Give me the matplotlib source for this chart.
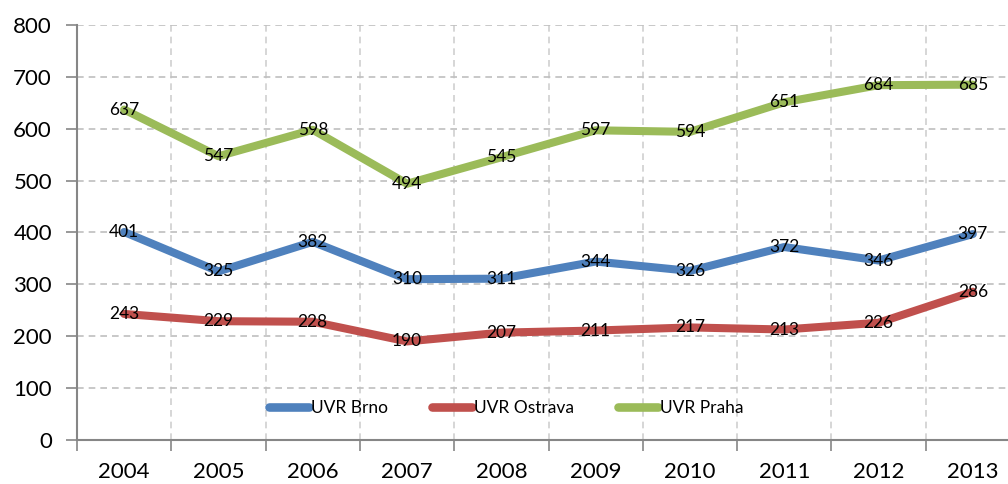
import numpy as np
import matplotlib
matplotlib.use("Agg")
import matplotlib.pyplot as plt

years = ["2004", "2005", "2006", "2007", "2008", "2009", "2010", "2011", "2012", "2013"]
brno = [401, 325, 382, 310, 311, 344, 326, 372, 346, 397]
ostrava = [243, 229, 228, 190, 207, 211, 217, 213, 226, 286]
praha = [637, 547, 598, 494, 545, 597, 594, 651, 684, 685]
series_names = ["UVR Brno", "UVR Ostrava", "UVR Praha"]
colors = ["#4F81BD", "#C0504D", "#9BBB59"]

plt.rcParams['font.family'] = ['Lato', 'DejaVu Sans']

W, H = 1008, 484
fig = plt.figure(figsize=(W / 100, H / 100), dpi=100)
ax = fig.add_axes([77 / W, 1 - 440 / H, 943 / W, 415 / H])

x = np.arange(len(years))
for vals, name, c in zip([brno, ostrava, praha], series_names, colors):
    ax.plot(x, vals, color=c, lw=5.8, solid_capstyle='round', solid_joinstyle='round', label=name, zorder=3)
    for xi, v in zip(x, vals):
        ax.text(xi, v, str(v), ha='center', va='center', fontsize=12.5, color='black', zorder=5)

ax.set_xlim(-0.5, len(years) - 0.5)
ax.set_ylim(0, 800)
ax.set_yticks(np.arange(0, 801, 100))
ax.set_xticks(x)
ax.set_xticklabels(years)
ax.set_xticks(np.arange(-0.5, len(years), 1.0), minor=True)
ax.tick_params(axis='x', which='major', length=0, labelsize=16, pad=16, colors='black')
ax.tick_params(axis='x', which='minor', length=8, width=1.2, color='#868686', direction='out')
ax.tick_params(axis='y', which='major', length=8, width=1.2, color='#868686', labelsize=16, pad=10, labelcolor='black')

ax.grid(True, axis='y', which='major', ls=(0, (4, 3)), color='#BFBFBF', lw=1.2, zorder=0)
ax.grid(True, axis='x', which='minor', ls=(0, (4, 3)), color='#D0D0D0', lw=1.2, zorder=0)
ax.grid(False, axis='x', which='major')
for s in ['top', 'right']:
    ax.spines[s].set_visible(False)
for s in ['left', 'bottom']:
    ax.spines[s].set_color('#868686')
    ax.spines[s].set_linewidth(1.5)
ax.set_axisbelow(True)

leg = ax.legend(loc='center left', bbox_to_anchor=(185 / 943, 32 / 415), ncol=3, frameon=False,
                fontsize=12.5, handlelength=2.3, handletextpad=0.15, columnspacing=2.5, borderaxespad=0)
for line in leg.get_lines():
    line.set_linewidth(6.2)

fig.savefig("out.png", dpi=100)
